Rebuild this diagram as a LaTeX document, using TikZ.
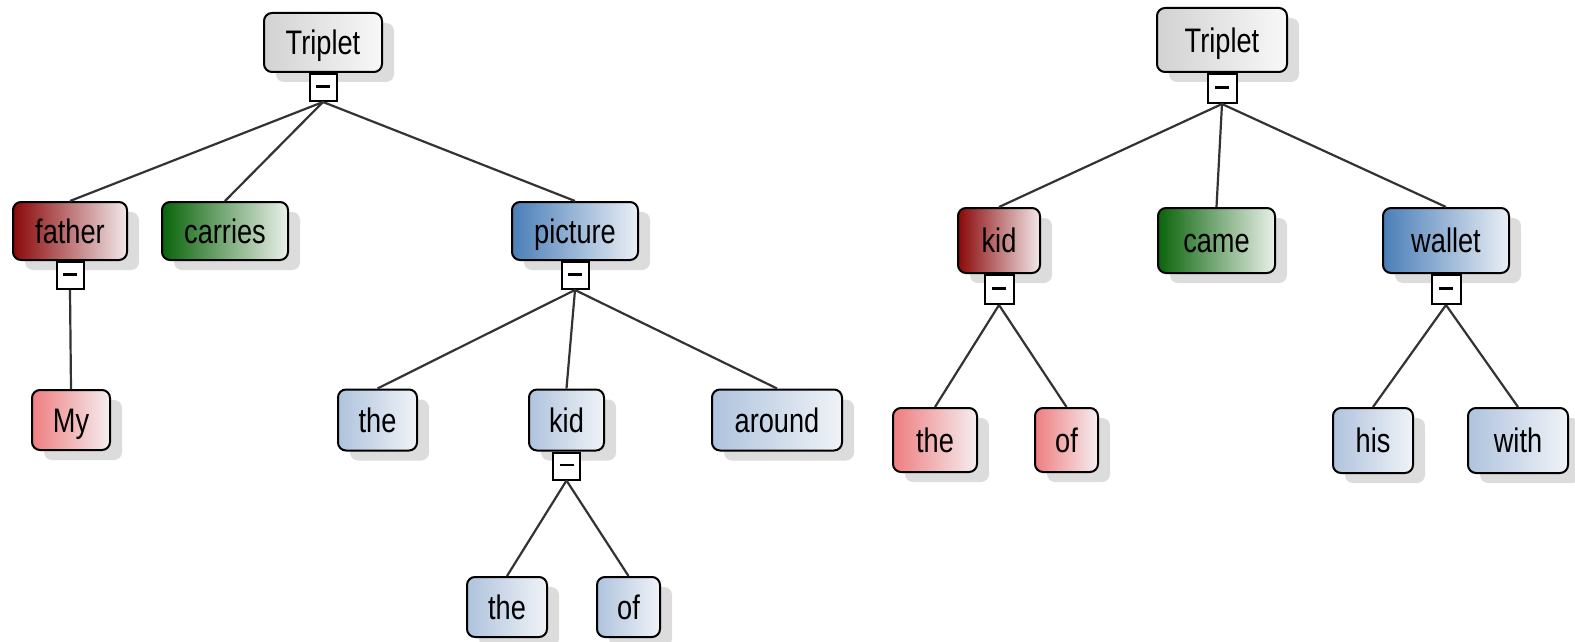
\documentclass[tikz,border=0pt]{standalone}
\usepackage{fontspec}
\setmainfont[FakeStretch=0.8]{Liberation Sans}
\usetikzlibrary{shadows}
\definecolor{gA}{HTML}{D2D2D2}\definecolor{gB}{HTML}{F8F8F8}
\definecolor{rA}{HTML}{8A0808}\definecolor{rB}{HTML}{F2E8EA}
\definecolor{nA}{HTML}{0A640A}\definecolor{nB}{HTML}{EAF0EA}
\definecolor{bA}{HTML}{4A7EB8}\definecolor{bB}{HTML}{EAEFF5}
\definecolor{lrA}{HTML}{EE7E80}\definecolor{lrB}{HTML}{F5EEF0}
\definecolor{lbA}{HTML}{AFC3DD}\definecolor{lbB}{HTML}{F0F3F7}
\definecolor{shd}{HTML}{DCDCDC}
\tikzset{
  wbox/.style={draw=black, line width=2pt, rounded corners=8pt, inner sep=0pt,
    font=\fontsize{34}{40}\selectfont, text height=24.5pt, text depth=0pt,
    drop shadow={shadow xshift=12pt, shadow yshift=-10pt, fill=shd, opacity=1}},
  graybox/.style={wbox, left color=gA, right color=gB},
  redbox/.style={wbox, left color=rA, right color=rB},
  greenbox/.style={wbox, left color=nA, right color=nB},
  bluebox/.style={wbox, left color=bA, right color=bB},
  lredbox/.style={wbox, left color=lrA, right color=lrB},
  lbluebox/.style={wbox, left color=lbA, right color=lbB},
  minusbox/.style={draw=black, fill=white, line width=2pt, inner sep=0pt, anchor=north,
    minimum width=#1, minimum height=#1,
    path picture={\draw[line width=2.2pt]
      ([xshift=-7pt,yshift=1pt]path picture bounding box.center) --
      ([xshift=7pt,yshift=1pt]path picture bounding box.center);}},
  minusbox/.default=27pt,
  edge/.style={draw=black!80, line width=2.2pt},
}
\newcommand{\bx}[6]{\node[#1, minimum width=#4pt, minimum height=#5pt] (#2) at (#3) {#6};}
\begin{document}
\begin{tikzpicture}[x=1pt,y=-1pt]
\useasboundingbox (0,0) rectangle (1575,642);
% left tree
\bx{graybox}{ta}{323,42.5}{118}{59}{Triplet}
\bx{redbox}{father}{70,231}{114}{58}{father}
\bx{greenbox}{carries}{225,231}{126}{58}{carries}
\bx{bluebox}{picture}{575,231}{126}{58}{picture}
\bx{lredbox}{my}{71,420}{78}{60}{My}
\bx{lbluebox}{thea}{377.5,420}{79}{61}{the}
\bx{lbluebox}{kida}{566.5,420}{75}{61}{kid}
\bx{lbluebox}{around}{777,420}{130}{61}{around}
\bx{lbluebox}{theb}{507,607}{80}{60}{the}
\bx{lbluebox}{ofa}{628.5,607}{63}{60}{of}
\node[minusbox=27pt] (tam) at (ta.south) {};
\node[minusbox=27pt] (fatherm) at (father.south) {};
\node[minusbox=27pt] (picturem) at (picture.south) {};
\node[minusbox=27pt] (kidam) at (kida.south) {};
\draw[edge] (tam.south) -- (father.north);
\draw[edge] (tam.south) -- (carries.north);
\draw[edge] (tam.south) -- (picture.north);
\draw[edge] (fatherm.south) -- (my.north);
\draw[edge] (picturem.south) -- (thea.north);
\draw[edge] (picturem.south) -- (kida.north);
\draw[edge] (picturem.south) -- (around.north);
\draw[edge] (kidam.south) -- (theb.north);
\draw[edge] (kidam.south) -- (ofa.north);
% right tree
\bx{graybox}{tb}{1222,40}{130}{64}{Triplet}
\bx{redbox}{kidb}{999,240.5}{82}{65}{kid}
\bx{greenbox}{came}{1216.5,240.5}{117}{65}{came}
\bx{bluebox}{wallet}{1446,240.5}{126}{65}{wallet}
\bx{lredbox}{thec}{935,440}{84}{64}{the}
\bx{lredbox}{ofb}{1066.5,440}{63}{64}{of}
\bx{lbluebox}{his}{1373,440.5}{80}{65}{his}
\bx{lbluebox}{with}{1518,440.5}{100}{65}{with}
\node[minusbox=29pt] (tbm) at (tb.south) {};
\node[minusbox=29pt] (kidbm) at (kidb.south) {};
\node[minusbox=29pt] (walletm) at (wallet.south) {};
\draw[edge] (tbm.south) -- (kidb.north);
\draw[edge] (tbm.south) -- (came.north);
\draw[edge] (tbm.south) -- (wallet.north);
\draw[edge] (kidbm.south) -- (thec.north);
\draw[edge] (kidbm.south) -- (ofb.north);
\draw[edge] (walletm.south) -- (his.north);
\draw[edge] (walletm.south) -- (with.north);
\end{tikzpicture}
\end{document}
